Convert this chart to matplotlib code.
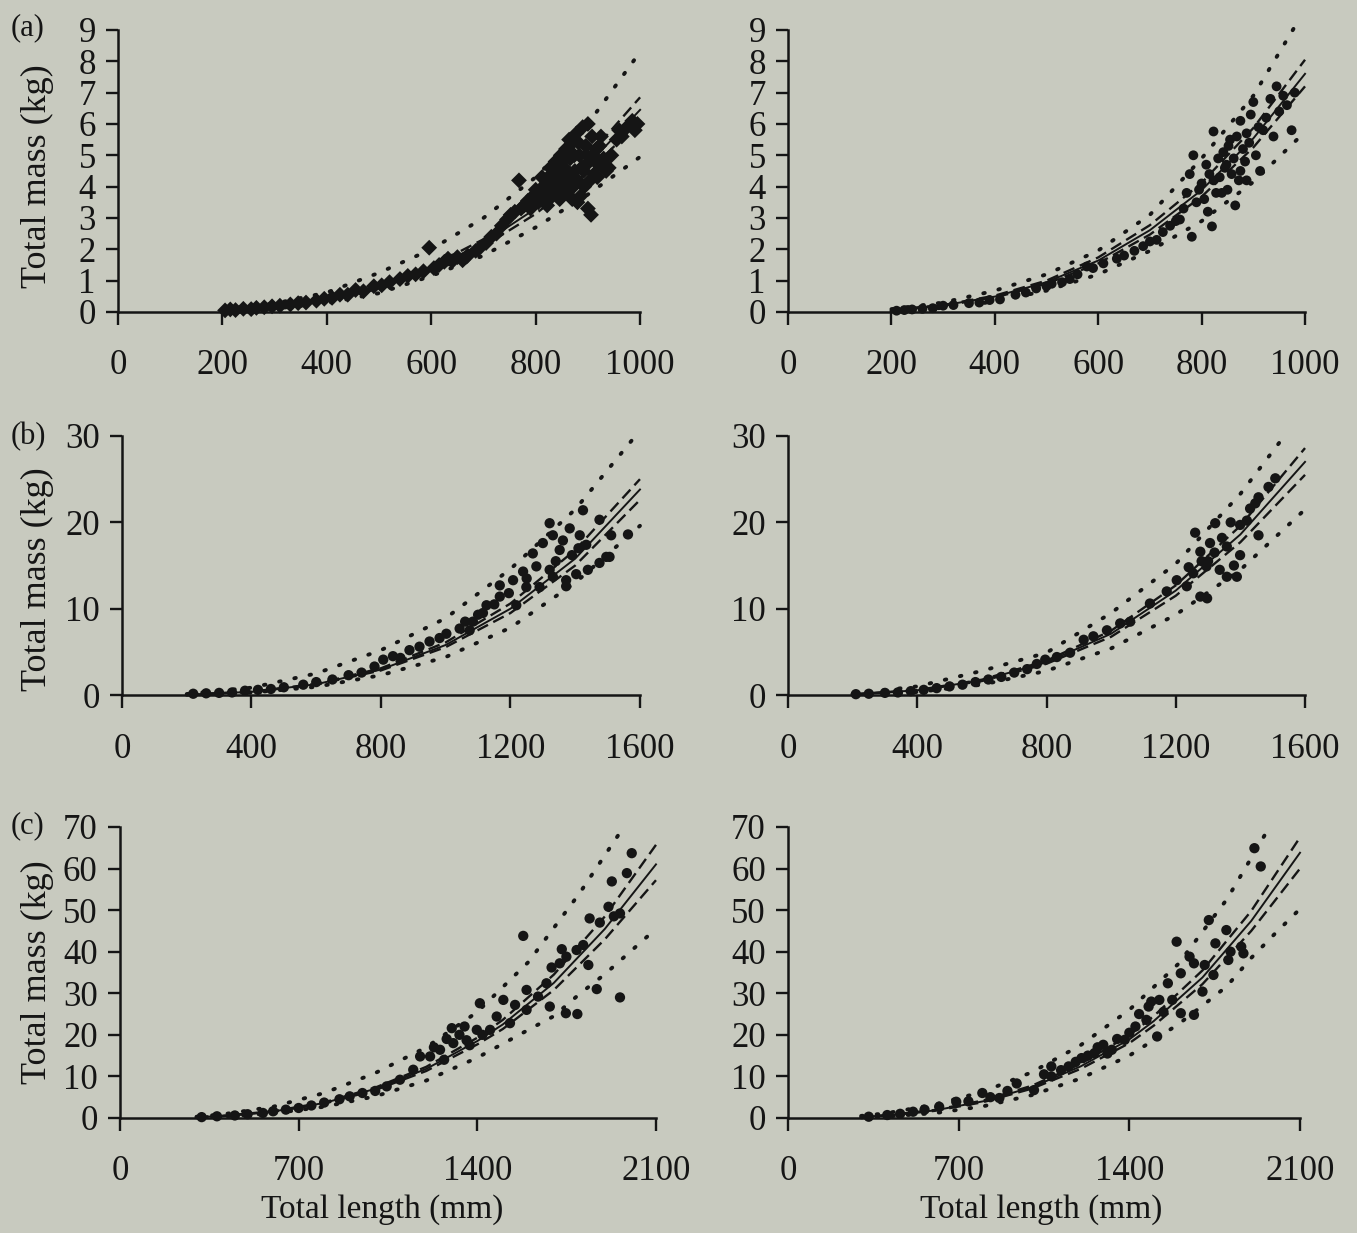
import matplotlib
matplotlib.use('Agg')
import matplotlib.pyplot as plt

plt.rcParams['font.family'] = ['Liberation Serif', 'DejaVu Serif']

BG = '#c8cabf'
INK = '#151515'

# ---- (a) left ----
A1_X = [205, 215, 225, 240, 255, 265, 280, 295, 310, 330, 345, 360, 380, 395, 410, 425, 440, 455, 470, 490,
        505, 520, 540, 555, 570, 585, 596, 605, 615, 625, 632, 640, 650, 660, 670, 685, 690, 705, 715, 725,
        735, 745, 752, 760, 768, 772, 778, 785, 790, 795, 800, 805, 810, 812, 818, 820, 825, 828, 832, 835,
        838, 842, 845, 848, 852, 855, 858, 860, 862, 866, 870, 872, 875, 878, 880, 884, 888, 890, 893, 896,
        900, 900, 903, 906, 908, 912, 916, 920, 925, 930, 935, 940, 945, 955, 960, 965, 975, 985, 990, 995,
        815, 822, 830, 840, 846, 850, 856, 864, 868, 874, 882, 886, 892, 898, 904, 910, 918, 922, 880, 870]
A1_Y = [0.05, 0.08, 0.06, 0.10, 0.09, 0.13, 0.15, 0.18, 0.20, 0.24, 0.28, 0.30, 0.36, 0.42, 0.45, 0.55, 0.55, 0.70, 0.66, 0.82,
        0.85, 0.95, 1.05, 1.15, 1.20, 1.30, 2.05, 1.40, 1.50, 1.60, 1.70, 1.62, 1.75, 1.65, 1.80, 1.95, 2.00, 2.20, 2.40, 2.50,
        2.75, 2.95, 3.10, 3.20, 4.20, 3.30, 3.40, 3.55, 3.30, 3.70, 3.90, 3.50, 3.80, 4.30, 3.60, 4.10, 3.90, 4.60, 3.70, 4.20,
        4.80, 3.90, 4.40, 5.00, 4.10, 4.60, 5.20, 3.80, 4.30, 4.90, 5.40, 4.00, 4.50, 5.70, 4.20, 5.00, 4.60, 5.90, 4.00, 5.30,
        3.30, 6.00, 4.80, 3.10, 5.60, 4.40, 5.20, 4.70, 5.60, 4.90, 4.50, 4.60, 5.00, 5.50, 5.80, 5.60, 5.90, 6.10, 5.80, 6.00,
        4.00, 3.40, 4.40, 4.50, 3.60, 4.80, 3.90, 5.50, 4.10, 5.00, 5.40, 3.70, 4.50, 5.00, 4.20, 5.00, 4.30, 5.30, 3.50, 3.60]
A1_CX = [200, 300, 400, 500, 600, 700, 800, 900, 1000]
A1_FIT = [0.05, 0.17, 0.40, 0.78, 1.38, 2.20, 3.30, 4.70, 6.45]
A1_CI_HI = [0.05, 0.18, 0.43, 0.83, 1.46, 2.32, 3.48, 4.96, 6.85]
A1_CI_LO = [0.05, 0.16, 0.38, 0.74, 1.31, 2.09, 3.13, 4.46, 6.10]
A1_PI_HI_X = [200, 300, 400, 500, 600, 700, 800, 900, 1000]
A1_PI_HI = [0.08, 0.27, 0.62, 1.25, 2.00, 3.00, 4.30, 6.00, 8.30]
A1_PI_LO_X = [200, 300, 400, 500, 600, 700, 800, 900, 1000]
A1_PI_LO = [0.03, 0.11, 0.28, 0.60, 1.15, 1.80, 2.70, 3.75, 4.95]

# ---- (a) right ----
A2_X = [210, 225, 240, 260, 280, 300, 320, 350, 370, 390, 410, 440, 460, 480, 500, 510, 530, 545, 560, 578,
        590, 610, 636, 650, 670, 687, 700, 713, 725, 739, 750, 758, 765, 771, 777, 781, 784, 790, 795, 800,
        805, 809, 812, 815, 820, 823, 823, 828, 832, 835, 839, 842, 845, 848, 850, 852, 855, 858, 862, 865,
        868, 872, 875, 875, 880, 884, 887, 887, 892, 895, 900, 905, 910, 913, 919, 925, 933, 939, 945, 950,
        958, 965, 974, 980]
A2_Y = [0.04, 0.06, 0.08, 0.10, 0.12, 0.20, 0.22, 0.28, 0.30, 0.38, 0.40, 0.55, 0.62, 0.75, 0.82, 0.90, 0.95, 1.05, 1.20, 1.45,
        1.40, 1.55, 1.70, 1.80, 1.95, 2.10, 2.25, 2.30, 2.55, 2.75, 2.90, 2.95, 3.30, 3.80, 4.40, 2.40, 5.00, 3.50, 3.90, 4.10,
        3.60, 4.70, 3.20, 4.40, 2.73, 4.20, 5.76, 3.80, 4.90, 4.30, 3.80, 5.10, 4.60, 4.70, 3.90, 5.30, 5.50, 4.40, 4.90, 3.40,
        5.60, 4.20, 6.10, 4.50, 5.20, 4.80, 5.70, 4.20, 5.40, 6.30, 6.70, 5.00, 5.90, 4.50, 5.80, 6.20, 6.80, 5.60, 7.20, 6.40,
        6.90, 6.60, 5.80, 7.00]
A2_CX = [200, 300, 400, 500, 600, 700, 800, 900, 1000]
A2_FIT = [0.06, 0.21, 0.49, 0.95, 1.64, 2.61, 3.89, 5.54, 7.60]
A2_CI_HI = [0.064, 0.22, 0.52, 1.00, 1.74, 2.77, 4.12, 5.87, 8.05]
A2_CI_LO = [0.057, 0.20, 0.46, 0.90, 1.55, 2.47, 3.68, 5.25, 7.20]
A2_PI_HI_X = [200, 300, 400, 500, 600, 700, 800, 900, 980]
A2_PI_HI = [0.09, 0.30, 0.68, 1.20, 1.96, 3.10, 4.90, 6.90, 9.10]
A2_PI_LO_X = [200, 300, 400, 500, 600, 700, 800, 900, 1000]
A2_PI_LO = [0.03, 0.13, 0.33, 0.68, 1.20, 1.95, 2.90, 4.15, 5.75]

# ---- (b) left ----
B1_X = [220, 260, 300, 340, 380, 420, 460, 500, 560, 600, 650, 700, 740, 780, 807, 837, 860, 888, 919, 950,
        981, 1002, 1043, 1074, 1084, 1115, 1126, 1167, 1167, 1208, 1218, 1239, 1249, 1269, 1280, 1290, 1300, 1321, 1321, 1331,
        1331, 1352, 1362, 1372, 1372, 1383, 1403, 1414, 1424, 1434, 1439, 1475, 1475, 1496, 1506, 1511, 1563,
        1340, 1390, 1410, 1250, 1195, 1150, 1100, 1060]
B1_Y = [0.15, 0.20, 0.25, 0.30, 0.50, 0.60, 0.70, 0.90, 1.20, 1.50, 1.80, 2.30, 2.60, 3.30, 4.10, 4.50, 4.30, 5.20, 5.60, 6.20,
        6.60, 7.10, 7.70, 7.50, 8.50, 9.50, 10.4, 11.4, 12.7, 13.3, 10.4, 14.3, 12.5, 16.4, 14.9, 12.5, 17.6, 19.9, 14.5, 18.5,
        13.7, 16.8, 17.9, 13.3, 12.6, 19.3, 14.0, 18.5, 21.4, 17.4, 14.5, 20.3, 15.3, 16.0, 16.0, 18.5, 18.6,
        15.5, 16.2, 17.0, 13.5, 11.8, 10.5, 9.3, 8.5]
B1_CX = [200, 400, 600, 800, 1000, 1200, 1400, 1600]
B1_FIT = [0.05, 0.37, 1.25, 2.95, 5.80, 10.0, 15.8, 23.8]
B1_CI_HI = [0.05, 0.38, 1.30, 3.10, 6.10, 10.6, 16.8, 25.0]
B1_CI_LO = [0.05, 0.36, 1.20, 2.85, 5.55, 9.50, 15.0, 22.6]
B1_PI_HI_X = [200, 400, 600, 800, 1000, 1200, 1400, 1575]
B1_PI_HI = [0.12, 0.85, 2.50, 5.20, 8.90, 14.6, 21.5, 29.5]
B1_PI_LO_X = [200, 400, 600, 800, 1000, 1200, 1400, 1600]
B1_PI_LO = [0.03, 0.28, 0.95, 2.30, 4.40, 7.80, 13.0, 19.6]

# ---- (b) right ----
B2_X = [210, 250, 300, 340, 380, 420, 460, 500, 540, 580, 620, 660, 700, 740, 770, 796, 832, 873, 915, 945,
        987, 1028, 1059, 1120, 1172, 1203, 1234, 1254, 1260, 1276, 1276, 1295, 1297, 1306, 1322, 1336, 1343, 1358, 1358, 1370,
        1389, 1399, 1399, 1420, 1430, 1446, 1456, 1456, 1487, 1508, 1300, 1320, 1280, 1380, 1240]
B2_Y = [0.10, 0.15, 0.25, 0.30, 0.45, 0.60, 0.80, 1.00, 1.20, 1.50, 1.80, 2.10, 2.60, 3.00, 3.60, 4.10, 4.40, 4.90, 6.40, 6.80,
        7.50, 8.30, 8.50, 10.6, 12.0, 13.3, 12.6, 14.1, 18.8, 16.6, 11.4, 14.9, 11.2, 17.6, 19.9, 14.5, 18.2, 17.2, 13.7, 20.0,
        13.7, 19.7, 16.2, 20.2, 21.6, 22.2, 18.5, 22.9, 24.1, 25.1, 15.5, 16.5, 15.5, 15.0, 14.8]
B2_CX = [200, 400, 600, 800, 1000, 1200, 1400, 1600]
B2_FIT = [0.08, 0.55, 1.70, 3.80, 7.10, 12.1, 18.6, 27.0]
B2_CI_HI = [0.08, 0.57, 1.78, 3.98, 7.45, 12.7, 19.6, 28.6]
B2_CI_LO = [0.08, 0.53, 1.62, 3.62, 6.75, 11.5, 17.7, 25.5]
B2_PI_HI_X = [200, 400, 600, 800, 1000, 1200, 1400, 1530]
B2_PI_HI = [0.15, 1.00, 2.80, 4.90, 9.50, 15.2, 23.3, 29.7]
B2_PI_LO_X = [200, 400, 600, 800, 1000, 1200, 1400, 1600]
B2_PI_LO = [0.04, 0.35, 1.20, 2.80, 5.40, 9.30, 14.5, 21.5]

# ---- (c) left ----
C1_X = [320, 380, 450, 500, 560, 600, 650, 700, 750, 800, 860, 900, 950, 1000, 1045, 1097, 1149, 1176, 1215, 1254,
        1300, 1306, 1358, 1398, 1410, 1450, 1476, 1502, 1528, 1548, 1580, 1593, 1593, 1638, 1671, 1684, 1691, 1723, 1731, 1747,
        1749, 1789, 1792, 1815, 1835, 1840, 1868, 1880, 1914, 1927, 1935, 1959, 1959, 1986, 2005,
        1230, 1280, 1330, 1370, 1420, 1350, 1270]
C1_Y = [0.2, 0.4, 0.6, 0.9, 1.2, 1.6, 2.0, 2.4, 3.0, 3.7, 4.5, 5.2, 6.0, 6.5, 7.6, 9.2, 11.6, 14.8, 14.8, 16.4,
        21.6, 18.0, 18.7, 21.2, 27.6, 21.2, 24.4, 28.4, 22.8, 27.2, 43.8, 30.8, 26.0, 29.2, 32.4, 26.8, 36.2, 37.2, 40.6, 25.2,
        38.8, 40.4, 25.0, 41.6, 36.8, 48.0, 31.0, 47.0, 50.8, 56.9, 48.5, 49.2, 29.0, 58.9, 63.7,
        17.0, 19.0, 20.0, 17.5, 20.0, 22.0, 14.0]
C1_CX = [300, 400, 600, 800, 1000, 1200, 1400, 1500, 1700, 1900, 2100]
C1_FIT = [0.20, 0.47, 1.55, 3.60, 7.00, 11.8, 18.5, 22.5, 32.5, 45.5, 61.0]
C1_CI_HI = [0.21, 0.49, 1.62, 3.75, 7.30, 12.3, 19.3, 23.6, 34.5, 48.5, 65.7]
C1_CI_LO = [0.19, 0.45, 1.48, 3.45, 6.70, 11.3, 17.7, 21.4, 30.8, 43.0, 57.2]
C1_PI_HI_X = [300, 400, 600, 800, 1000, 1200, 1400, 1600, 1800, 1966]
C1_PI_HI = [0.30, 0.85, 2.70, 6.00, 10.8, 17.0, 25.5, 37.5, 54.0, 69.3]
C1_PI_LO_X = [300, 400, 600, 800, 1000, 1200, 1400, 1600, 1700, 1800, 1900, 2100]
C1_PI_LO = [0.14, 0.33, 1.10, 2.70, 5.20, 9.00, 14.5, 21.2, 24.5, 29.8, 34.6, 45.5]

# ---- (c) right ----
C2_X = [331, 407, 460, 513, 560, 620, 690, 740, 797, 830, 867, 900, 938, 1009, 1050, 1080, 1080, 1120, 1151, 1180,
        1204, 1230, 1257, 1270, 1293, 1310, 1328, 1350, 1381, 1400, 1425, 1440, 1470, 1479, 1490, 1514, 1523, 1540, 1558, 1576,
        1594, 1611, 1611, 1647, 1665, 1665, 1700, 1709, 1726, 1745, 1753, 1798, 1806, 1815, 1859, 1868, 1913, 1939]
C2_Y = [0.3, 0.7, 1.0, 1.5, 2.0, 2.7, 3.9, 4.0, 6.0, 5.0, 4.8, 6.5, 8.3, 6.7, 10.5, 12.4, 10.0, 11.5, 12.4, 13.5,
        14.4, 15.0, 15.6, 17.0, 17.6, 15.5, 16.4, 19.0, 18.8, 20.5, 22.0, 25.0, 23.6, 26.8, 28.0, 19.6, 28.4, 25.5, 32.4, 28.4,
        42.4, 34.8, 25.2, 38.8, 37.2, 24.8, 30.4, 36.8, 47.6, 34.4, 42.0, 45.2, 38.0, 40.0, 41.2, 39.6, 64.9, 60.5]
C2_CX = [300, 400, 600, 800, 1000, 1200, 1400, 1500, 1700, 1900, 2100]
C2_FIT = [0.28, 0.60, 1.80, 4.00, 7.40, 12.4, 18.9, 23.3, 33.8, 47.4, 63.8]
C2_CI_HI = [0.30, 0.63, 1.90, 4.20, 7.75, 13.0, 19.9, 24.5, 35.5, 49.8, 67.5]
C2_CI_LO = [0.27, 0.57, 1.70, 3.80, 7.05, 11.8, 18.0, 22.2, 32.2, 45.0, 60.0]
C2_PI_HI_X = [300, 400, 600, 800, 1000, 1200, 1400, 1600, 1800, 1980]
C2_PI_HI = [0.50, 1.10, 3.20, 6.30, 11.0, 17.5, 26.0, 37.0, 52.6, 70.5]
C2_PI_LO_X = [300, 400, 600, 800, 1000, 1200, 1400, 1600, 1700, 1800, 1900, 2000, 2100]
C2_PI_LO = [0.14, 0.34, 1.15, 2.80, 5.50, 9.50, 15.0, 22.5, 27.0, 31.7, 38.5, 44.5, 50.3]

X_TICKS_A = [0, 200, 400, 600, 800, 1000]
X_TICKS_B = [0, 400, 800, 1200, 1600]
X_TICKS_C = [0, 700, 1400, 2100]
Y_TICKS_A = list(range(0, 10))
Y_TICKS_B = [0, 10, 20, 30]
Y_TICKS_C = [0, 10, 20, 30, 40, 50, 60, 70]

# panel table built from the lists above (rect in figure fractions, label coords in axes fractions)
panels = [
    dict(rect=[0.0870, 0.7470, 0.3847, 0.2287], pts=(A1_X, A1_Y), marker='D', size=65,
         cx=A1_CX, fit=A1_FIT, ci=(A1_CI_HI, A1_CI_LO), pih=(A1_PI_HI_X, A1_PI_HI), pil=(A1_PI_LO_X, A1_PI_LO),
         xt=X_TICKS_A, yt=Y_TICKS_A, ylab=(-0.123, 0.48), xlab=None),
    dict(rect=[0.5807, 0.7470, 0.3810, 0.2287], pts=(A2_X, A2_Y), marker='o', size=50,
         cx=A2_CX, fit=A2_FIT, ci=(A2_CI_HI, A2_CI_LO), pih=(A2_PI_HI_X, A2_PI_HI), pil=(A2_PI_LO_X, A2_PI_LO),
         xt=X_TICKS_A, yt=Y_TICKS_A, ylab=None, xlab=None),
    dict(rect=[0.0899, 0.4363, 0.3817, 0.2101], pts=(B1_X, B1_Y), marker='o', size=55,
         cx=B1_CX, fit=B1_FIT, ci=(B1_CI_HI, B1_CI_LO), pih=(B1_PI_HI_X, B1_PI_HI), pil=(B1_PI_LO_X, B1_PI_LO),
         xt=X_TICKS_B, yt=Y_TICKS_B, ylab=(-0.131, 0.448), xlab=None),
    dict(rect=[0.5807, 0.4363, 0.3810, 0.2101], pts=(B2_X, B2_Y), marker='o', size=55,
         cx=B2_CX, fit=B2_FIT, ci=(B2_CI_HI, B2_CI_LO), pih=(B2_PI_HI_X, B2_PI_HI), pil=(B2_PI_LO_X, B2_PI_LO),
         xt=X_TICKS_B, yt=Y_TICKS_B, ylab=None, xlab=None),
    dict(rect=[0.0884, 0.0933, 0.3950, 0.2360], pts=(C1_X, C1_Y), marker='o', size=55,
         cx=C1_CX, fit=C1_FIT, ci=(C1_CI_HI, C1_CI_LO), pih=(C1_PI_HI_X, C1_PI_HI), pil=(C1_PI_LO_X, C1_PI_LO),
         xt=X_TICKS_C, yt=Y_TICKS_C, ylab=(-0.123, 0.50), xlab=(0.49, -0.262)),
    dict(rect=[0.5807, 0.0933, 0.3773, 0.2360], pts=(C2_X, C2_Y), marker='o', size=55,
         cx=C2_CX, fit=C2_FIT, ci=(C2_CI_HI, C2_CI_LO), pih=(C2_PI_HI_X, C2_PI_HI), pil=(C2_PI_LO_X, C2_PI_LO),
         xt=X_TICKS_C, yt=Y_TICKS_C, ylab=None, xlab=(0.494, -0.262)),
]

fig = plt.figure(figsize=(13.57, 12.33), dpi=100, facecolor=BG)

for p in panels:
    ax = fig.add_axes(p['rect'])
    ax.set_facecolor('none')

    ax.scatter(p['pts'][0], p['pts'][1], s=p['size'], marker=p['marker'], c=INK,
               edgecolors='none', zorder=3, clip_on=False)

    # fitted line, confidence band (dashed), prediction band (dotted)
    ax.plot(p['cx'], p['fit'], '-', color=INK, lw=1.4, zorder=4, clip_on=False)
    for band in p['ci']:
        ax.plot(p['cx'], band, color=INK, lw=1.7, ls=(0, (5, 2.5)), zorder=4, clip_on=False)
    for bx, by in (p['pih'], p['pil']):
        ax.plot(bx, by, color=INK, lw=2.8, ls=(0, (0.4, 3.6)), dash_capstyle='round',
                zorder=4, clip_on=False)

    ax.set_xlim(p['xt'][0], p['xt'][-1])
    ax.set_ylim(p['yt'][0], p['yt'][-1])
    ax.set_xticks(p['xt'])
    ax.set_yticks(p['yt'])

    for s in ['top', 'right']:
        ax.spines[s].set_visible(False)
    for s in ['left', 'bottom']:
        ax.spines[s].set_linewidth(1.8)
        ax.spines[s].set_color(INK)

    ax.tick_params(direction='out', length=9, width=1.7, colors=INK, labelsize=25)
    ax.tick_params(axis='x', pad=18)
    ax.tick_params(axis='y', pad=7)

    if p['ylab']:
        ax.set_ylabel('Total mass (kg)', fontsize=26, color=INK)
        ax.yaxis.set_label_coords(*p['ylab'])
    if p['xlab']:
        ax.set_xlabel('Total length (mm)', fontsize=24, color=INK)
        ax.xaxis.set_label_coords(*p['xlab'])

# panel letters
fig.text(28 / 1357, 1 - 28 / 1233, '(a)', fontsize=22, color=INK, ha='center', va='center')
fig.text(28 / 1357, 1 - 437 / 1233, '(b)', fontsize=22, color=INK, ha='center', va='center')
fig.text(28 / 1357, 1 - 826 / 1233, '(c)', fontsize=22, color=INK, ha='center', va='center')

fig.savefig('out.png', dpi=100, facecolor=BG)
